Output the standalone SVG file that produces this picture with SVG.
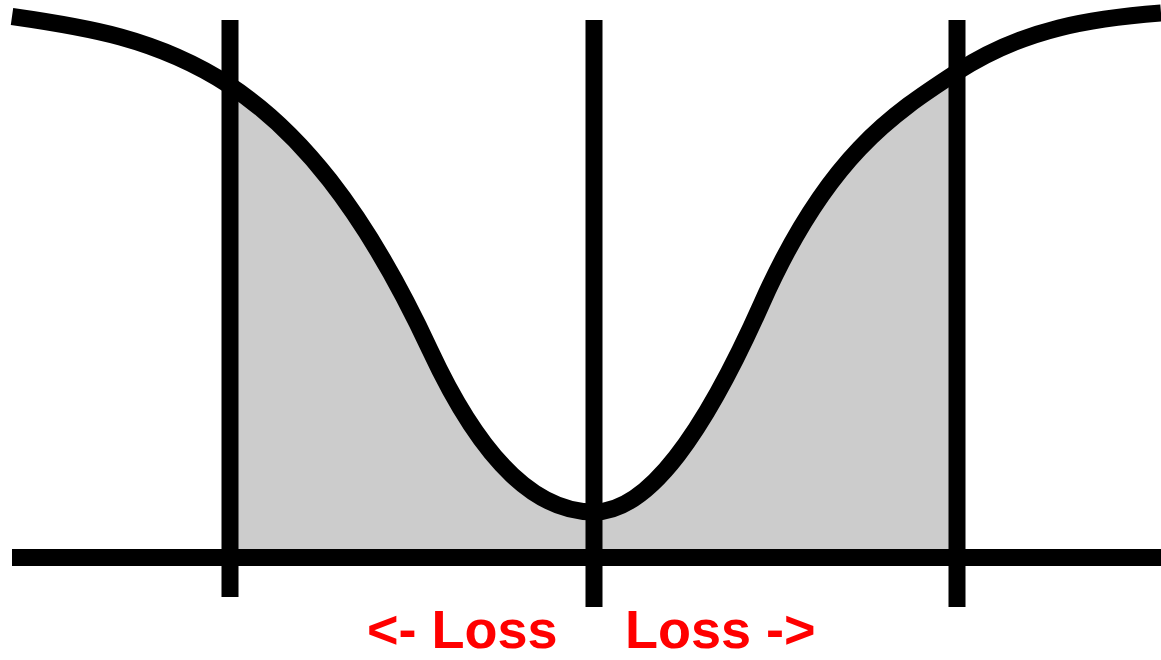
<svg xmlns="http://www.w3.org/2000/svg" width="1161" height="660" viewBox="0 0 1161 660">
  <style>
    .ln { stroke: #000; stroke-width: 17; fill: none; stroke-linecap: butt; }
    .lbl { font-family: "Liberation Sans", Arial, sans-serif; font-weight: bold; font-size: 54px; fill: #ff0000; }
  </style>
  <defs>
    <path id="curve" d="M12,16.5 C84.3,26.8 156.7,38 229,85 C296,128.6 363,206 430,350 C484.7,467.6 539.3,512 594,512 C650,512 706,429 762,303 C827,156.8 892,114.3 957,72 C1025,27.8 1093,18.4 1161,13"/>
    <clipPath id="band">
      <rect x="230" y="0" width="727" height="557.5"/>
    </clipPath>
  </defs>
  <rect width="1161" height="660" fill="#ffffff"/>
  <g id="area" clip-path="url(#band)">
    <path d="M12,16.5 C84.3,26.8 156.7,38 229,85 C296,128.6 363,206 430,350 C484.7,467.6 539.3,512 594,512 C650,512 706,429 762,303 C827,156.8 892,114.3 957,72 C1025,27.8 1093,18.4 1161,13 L1161,557.5 L12,557.5 Z" fill="#cccccc"/>
  </g>
  <g id="curve-line">
    <use href="#curve" class="ln"/>
  </g>
  <g id="axes">
    <line class="ln" x1="12" y1="557.5" x2="1161" y2="557.5"/>
    <line class="ln" x1="230" y1="20" x2="230" y2="597"/>
    <line class="ln" x1="594" y1="20" x2="594" y2="607"/>
    <line class="ln" x1="957" y1="20" x2="957" y2="607"/>
  </g>
  <g id="labels">
    <text class="lbl" x="367" y="648">&lt;- Loss</text>
    <text class="lbl" x="625" y="648">Loss -&gt;</text>
  </g>
</svg>
